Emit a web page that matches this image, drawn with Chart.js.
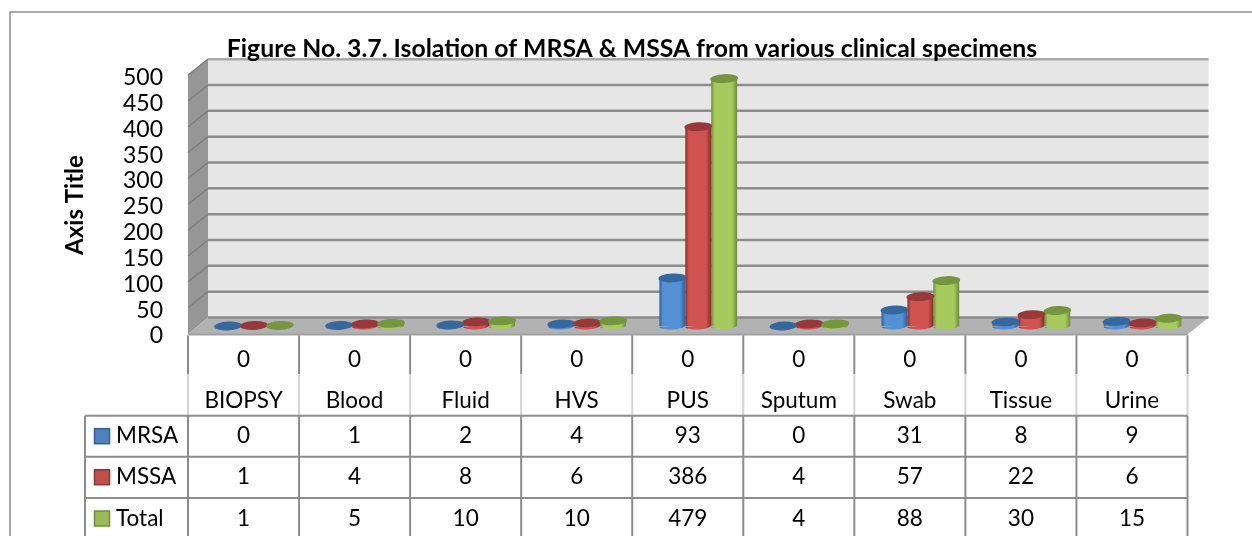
<!DOCTYPE html>
<html>
<head>
<meta charset="utf-8">
<title>MRSA and MSSA isolation</title>
<script src="https://cdn.jsdelivr.net/npm/chart.js@4"></script>
<style>
  html, body { margin: 0; padding: 0; background: #fff; }
  canvas { display: block; }
</style>
</head>
<body>
<canvas id="mycanvas" width="1252" height="536"></canvas>
<script>
var titleText = "Figure No. 3.7. Isolation of MRSA & MSSA from various clinical specimens";
var axisTitle = "Axis Title";
var categories = ["BIOPSY", "Blood", "Fluid", "HVS", "PUS", "Sputum", "Swab", "Tissue", "Urine"];
var zeroRow = [0, 0, 0, 0, 0, 0, 0, 0, 0];
var mrsa = [0, 1, 2, 4, 93, 0, 31, 8, 9];
var mssa = [1, 4, 8, 6, 386, 4, 57, 22, 6];
var total = [1, 5, 10, 10, 479, 4, 88, 30, 15];

var fontName = "Lato, Carlito, sans-serif";
var lineGrey = "#8c8c8c";
// depth of the 3d box: bars stand half way between the front edge and the back wall
var halfX = 10.5, halfY = 8.5;

// left edge, centre and right edge colour for the cylinders, then the colour of the cap
var colors = [
  { edge: "#2f5f96", mid: "#5390d4", cap: "#35689f", key: "#4f81bd", keyLine: "#2f5f96" },
  { edge: "#822e2c", mid: "#d0534f", cap: "#97393a", key: "#c0504d", keyLine: "#8f3432" },
  { edge: "#6c8b3a", mid: "#a6ca5c", cap: "#76953f", key: "#9bbb59", keyLine: "#6f8f39" }
];

function barFill(c) {
  var col = colors[c.datasetIndex];
  var xs = c.chart.scales.x;
  if (!xs || c.dataIndex === undefined) return col.key;
  var w = xs.width / categories.length * 0.7 / 3;
  var x0 = xs.getPixelForValue(c.dataIndex) + (c.datasetIndex - 1.5) * w;
  if (!isFinite(x0) || !isFinite(w)) return col.key;
  var g = c.chart.ctx.createLinearGradient(x0, 0, x0 + w, 0);
  g.addColorStop(0, col.edge);
  g.addColorStop(0.13, col.mid);
  g.addColorStop(0.8, col.mid);
  g.addColorStop(1, col.edge);
  return g;
}

var boxPlugin = {
  id: "box3d",
  beforeDraw: function(chart) {
    var ctx = chart.ctx, y = chart.scales.y, x = chart.scales.x;
    var wallL = x.left + halfX - 1, wallR = x.right + halfX;
    var frontL = x.left - halfX, frontR = x.right - halfX;
    var wallBottom = y.getPixelForValue(0) - halfY, wallTop = y.getPixelForValue(500) - halfY;
    var frontBottom = y.getPixelForValue(0) + halfY;

    ctx.save();
    // outer frame, only top and left show in the crop
    ctx.strokeStyle = lineGrey;
    ctx.lineWidth = 1.5;
    ctx.beginPath();
    ctx.moveTo(10, 536);
    ctx.lineTo(10, 12);
    ctx.lineTo(1252, 12);
    ctx.stroke();

    // back wall
    ctx.fillStyle = "#e6e6e6";
    ctx.fillRect(wallL, wallTop, wallR - wallL, wallBottom - wallTop);

    // side wall
    ctx.fillStyle = "#969696";
    ctx.beginPath();
    ctx.moveTo(frontL, wallTop + 2 * halfY - 1);
    ctx.lineTo(wallL, wallTop);
    ctx.lineTo(wallL, wallBottom);
    ctx.lineTo(frontL, frontBottom);
    ctx.closePath();
    ctx.fill();

    // floor
    ctx.fillStyle = "#b2b2b2";
    ctx.beginPath();
    ctx.moveTo(frontL, frontBottom);
    ctx.lineTo(wallL, wallBottom);
    ctx.lineTo(wallR, wallBottom);
    ctx.lineTo(frontR, frontBottom);
    ctx.closePath();
    ctx.fill();
    ctx.strokeStyle = "#a0a0a0";
    ctx.lineWidth = 2;
    ctx.beginPath();
    ctx.moveTo(frontL, frontBottom);
    ctx.lineTo(frontR, frontBottom);
    ctx.stroke();

    // grid lines from the y scale
    y.ticks.forEach(function(t) {
      var py = y.getPixelForValue(t.value) - halfY;
      ctx.strokeStyle = "#7f7f7f";
      ctx.lineWidth = 1.5;
      if (t.value > 0) {
        ctx.beginPath();
        ctx.moveTo(frontL, py + 2 * halfY - 1);
        ctx.lineTo(wallL, py);
        ctx.stroke();
      }
      ctx.strokeStyle = t.value == 500 ? "#a8a8a8" : lineGrey;
      ctx.lineWidth = 2.5;
      ctx.beginPath();
      ctx.moveTo(wallL, py);
      ctx.lineTo(wallR, py);
      ctx.stroke();
    });
    ctx.restore();
  },
  afterDatasetsDraw: function(chart) {
    var ctx = chart.ctx;
    ctx.save();
    chart.data.datasets.forEach(function(ds, i) {
      var col = colors[i];
      chart.getDatasetMeta(i).data.forEach(function(el) {
        var rx = el.width / 2 + 1, ry = 4.4, tilt = -0.05;
        // rounded foot of the cylinder
        if (el.base - el.y > 1) {
          ctx.fillStyle = el.options.backgroundColor;
          ctx.beginPath();
          ctx.ellipse(el.x, el.base, rx - 1, ry - 1, tilt, 0, Math.PI);
          ctx.fill();
        }
        // cap
        ctx.fillStyle = col.cap;
        ctx.beginPath();
        ctx.ellipse(el.x, el.y, rx, ry, tilt, 0, Math.PI * 2);
        ctx.fill();
      });
    });
    ctx.restore();
  },
  afterDraw: function(chart) {
    var ctx = chart.ctx, xs = chart.scales.x, y = chart.scales.y;
    var cw = xs.width / categories.length;
    var left = xs.left - halfX;
    var headTop = y.getPixelForValue(0) + halfY + 1;
    var rowLines = [415.7, 456.7, 498];
    var rows = [["MRSA", mrsa], ["MSSA", mssa], ["Total", total]];
    var i, k;

    ctx.save();
    ctx.lineWidth = 2;
    ctx.strokeStyle = lineGrey;

    // header cell separators, they fade over the category names
    for (i = 0; i <= categories.length; i++) {
      var lx = left + i * cw;
      ctx.strokeStyle = lineGrey;
      ctx.beginPath(); ctx.moveTo(lx, headTop); ctx.lineTo(lx, 374); ctx.stroke();
      ctx.strokeStyle = "#d4d4d4";
      ctx.beginPath(); ctx.moveTo(lx, 374); ctx.lineTo(lx, rowLines[0]); ctx.stroke();
      ctx.strokeStyle = lineGrey;
      ctx.beginPath(); ctx.moveTo(lx, rowLines[0]); ctx.lineTo(lx, 536); ctx.stroke();
    }
    ctx.strokeStyle = lineGrey;
    // first column of the table
    ctx.beginPath(); ctx.moveTo(85, rowLines[0]); ctx.lineTo(85, 536); ctx.stroke();
    rowLines.forEach(function(ry) {
      ctx.beginPath(); ctx.moveTo(85, ry); ctx.lineTo(left + categories.length * cw, ry); ctx.stroke();
    });

    // table body
    ctx.font = "22.5px " + fontName;
    ctx.textBaseline = "middle";
    rows.forEach(function(row, r) {
      var cy = rowLines[r] + 20.5;
      ctx.fillStyle = colors[r].key;
      ctx.strokeStyle = colors[r].keyLine;
      ctx.lineWidth = 1.5;
      ctx.fillRect(94.5, cy - 7.5, 15, 15);
      ctx.strokeRect(94.5, cy - 7.5, 15, 15);
      ctx.fillStyle = "#000";
      ctx.textAlign = "left";
      ctx.fillText(row[0], 116, cy);
      ctx.textAlign = "center";
      for (k = 0; k < categories.length; k++) {
        ctx.fillText(String(row[1][k]), xs.getPixelForValue(k) - halfX, cy);
      }
    });

    // axis title
    ctx.translate(75, 205);
    ctx.rotate(-Math.PI / 2);
    ctx.font = "bold 24px " + fontName;
    ctx.textAlign = "center";
    ctx.fillStyle = "#000";
    ctx.fillText(axisTitle, 0, 0);
    ctx.restore();
  }
};

var chartdata = {
  labels: categories,
  datasets: [
    { label: "MRSA", data: mrsa, backgroundColor: barFill },
    { label: "MSSA", data: mssa, backgroundColor: barFill },
    { label: "Total", data: total, backgroundColor: barFill }
  ]
};

new Chart(document.getElementById("mycanvas"), {
  type: "bar",
  data: chartdata,
  plugins: [boxPlugin],
  options: {
    responsive: false,
    animation: false,
    barPercentage: 1,
    categoryPercentage: 0.7,
    layout: { padding: { left: 66, right: 54, top: 37, bottom: 0 } },
    plugins: {
      legend: { display: false },
      tooltip: { enabled: false },
      title: {
        display: true,
        text: titleText,
        color: "#000",
        font: { family: fontName, size: 24.75, weight: "bold", lineHeight: 1 },
        padding: { top: 0, bottom: 5.95 }
      }
    },
    scales: {
      x: {
        grid: { display: false },
        border: { display: false },
        afterFit: function(scale) { scale.height = 210; },
        ticks: {
          autoSkip: false,
          maxRotation: 0,
          padding: 5,
          labelOffset: -halfX,
          color: "#000",
          font: { family: fontName, size: 22.5, lineHeight: 1.82 },
          callback: function(v, i) { return [String(zeroRow[i]), categories[i]]; }
        }
      },
      y: {
        min: 0,
        max: 500,
        grid: { display: false, drawTicks: false },
        border: { display: false },
        afterFit: function(scale) { scale.width = 132.5; },
        ticks: {
          autoSkip: false,
          stepSize: 50,
          padding: 35.5,
          labelOffset: 10,
          color: "#000",
          font: { family: fontName, size: 23 }
        }
      }
    }
  }
});
</script>
</body>
</html>
